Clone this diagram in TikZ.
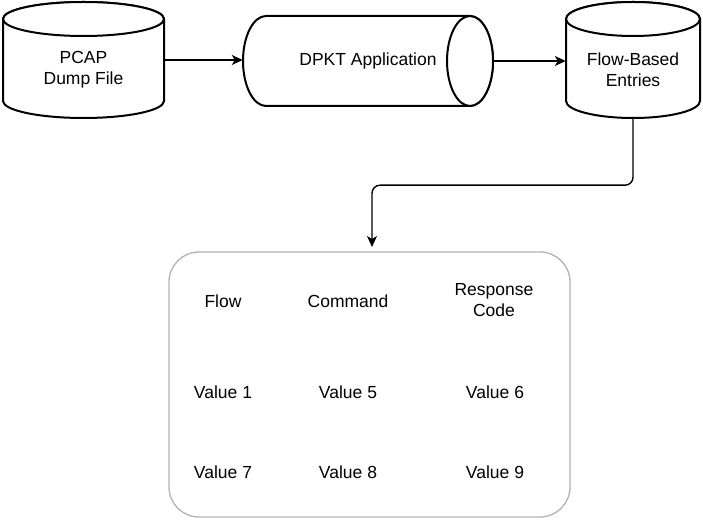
\documentclass[tikz,border=0pt]{standalone}
\usepackage{fontspec}
\setmainfont{Liberation Sans}
\usetikzlibrary{arrows.meta}

\tikzset{
  store/.style={draw=black, line width=2pt, fill=white},
  frame/.style={inner sep=0pt, align=center},
  lbl/.style={align=center, inner sep=0pt},
  arr/.style={line width=1.4pt, -{Stealth[length=11pt, width=10pt, inset=3pt]}},
  tbl/.style={draw=black!30, line width=1.3pt, rounded corners=30pt, inner sep=0pt},
}

\begin{document}
\begin{tikzpicture}[x=1pt, y=1pt, font=\fontsize{17.5}{21}\selectfont]
		\useasboundingbox (0,0) rectangle (703,522);

		% pcap dump file
		\draw[store] (3,503) -- (3,421) arc[start angle=180, end angle=360, x radius=80.5, y radius=17] -- (164,503) arc[start angle=0, end angle=180, x radius=80.5, y radius=17] -- cycle;
		\draw[store] (83.5,503) ellipse[x radius=80.5, y radius=17];
		\node[frame, minimum width=161, minimum height=116] (pcap) at (83.5,462) {};
		\node[lbl] (pcaptext) at (83.5,452) {PCAP\\Dump File};

		% dpkt application
		\draw[store] (266,506) arc[start angle=90, end angle=270, x radius=23, y radius=45] -- (470,416) arc[start angle=270, end angle=450, x radius=23, y radius=45] -- cycle;
		\draw[store] (470,461) ellipse[x radius=23, y radius=45];
		\node[frame, minimum width=250, minimum height=90] (dpkt) at (368,461) {DPKT Application};

		% flow-based entries
		\draw[store] (566,503) -- (566,421) arc[start angle=180, end angle=360, x radius=67, y radius=17] -- (700,503) arc[start angle=0, end angle=180, x radius=67, y radius=17] -- cycle;
		\draw[store] (633,503) ellipse[x radius=67, y radius=17];
		\node[frame, minimum width=134, minimum height=116] (flow) at (633,462) {};
		\node[lbl] (flowtext) at (633,452) {Flow-Based\\Entries};

		% table
		\node[tbl, minimum width=401, minimum height=265] (table) at (369.5,137.5) {};
		\node[lbl] (hflow) at (223,221) {Flow};
		\node[lbl] (hcmd) at (348,221) {Command};
		\node[lbl] (hcode) at (494,221.5) {Response\\Code};
		\node[lbl] (v1) at (223,130) {Value 1};
		\node[lbl] (v5) at (348,130) {Value 5};
		\node[lbl] (v6) at (495,130) {Value 6};
		\node[lbl] (v7) at (223,50) {Value 7};
		\node[lbl] (v8) at (348,50) {Value 8};
		\node[lbl] (v9) at (495,50) {Value 9};

		\coordinate (drop) at (372,275);

		\draw[arr] (pcap.east) -- (pcap.east -| dpkt.west);
		\draw[arr] (dpkt.east) -- (dpkt.east -| flow.west);
		\draw[arr, rounded corners=8pt] (flow.south) -- ++(0,-67) -| (drop);
	\end{tikzpicture}
\end{document}
